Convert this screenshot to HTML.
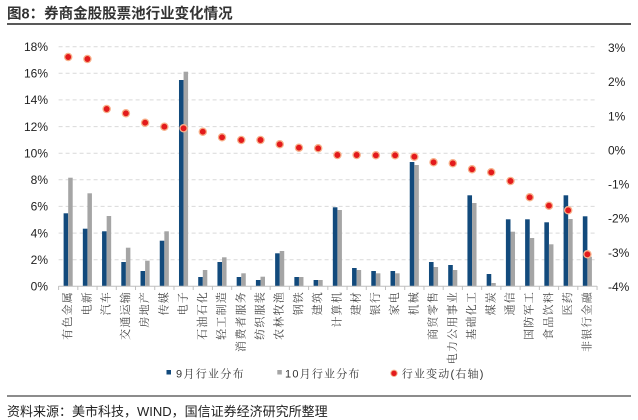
<!DOCTYPE html>
<html><head><meta charset="utf-8"><style>
html,body{margin:0;padding:0;background:#fff;}
svg{display:block;}
.t{font-family:"Liberation Sans","Noto Sans CJK SC",sans-serif;}
.s{font-family:"Liberation Sans","Noto Serif CJK SC",serif;}
</style></head><body>
<svg width="638" height="420" viewBox="0 0 638 420" xmlns="http://www.w3.org/2000/svg">
<rect width="638" height="420" fill="#fff"/>
<text class="t" x="7" y="18.5" font-size="14.5" font-weight="bold" fill="#333">图8：券商金股股票池行业变化情况</text>
<line x1="7" y1="24" x2="631" y2="24" stroke="#222" stroke-width="1.5"/>

<g stroke="#d9d9d9" stroke-width="1" stroke-dasharray="4,3">
<line x1="58.6" x2="597" y1="46.7" y2="46.7"/>
<line x1="58.6" x2="597" y1="73.3" y2="73.3"/>
<line x1="58.6" x2="597" y1="99.9" y2="99.9"/>
<line x1="58.6" x2="597" y1="126.6" y2="126.6"/>
<line x1="58.6" x2="597" y1="153.2" y2="153.2"/>
<line x1="58.6" x2="597" y1="179.8" y2="179.8"/>
<line x1="58.6" x2="597" y1="206.4" y2="206.4"/>
<line x1="58.6" x2="597" y1="233.1" y2="233.1"/>
<line x1="58.6" x2="597" y1="259.7" y2="259.7"/>
</g>

<g class="t" font-size="12" fill="#222" text-anchor="end">
<text x="48" y="51">18%</text>
<text x="48" y="77.6">16%</text>
<text x="48" y="104.2">14%</text>
<text x="48" y="130.9">12%</text>
<text x="48" y="157.5">10%</text>
<text x="48" y="184.1">8%</text>
<text x="48" y="210.7">6%</text>
<text x="48" y="237.4">4%</text>
<text x="48" y="264">2%</text>
<text x="48" y="290.6">0%</text>
</g>
<g class="t" font-size="12" fill="#222">
<text x="608" y="52">3%</text>
<text x="608" y="86.1">2%</text>
<text x="608" y="120.3">1%</text>
<text x="608" y="154.4">0%</text>
<text x="608" y="188.5">-1%</text>
<text x="608" y="222.7">-2%</text>
<text x="608" y="256.8">-3%</text>
<text x="608" y="291">-4%</text>
</g>

<g fill="#124a7c">
<rect x="63.6" y="213.3" width="4.6" height="72.7"/>
<rect x="82.83" y="228.7" width="4.6" height="57.3"/>
<rect x="102.06" y="231.3" width="4.6" height="54.7"/>
<rect x="121.29" y="262" width="4.6" height="24"/>
<rect x="140.52" y="271" width="4.6" height="15"/>
<rect x="159.75" y="240.7" width="4.6" height="45.3"/>
<rect x="178.98" y="80" width="4.6" height="206"/>
<rect x="198.21" y="277" width="4.6" height="9"/>
<rect x="217.44" y="262" width="4.6" height="24"/>
<rect x="236.67" y="277" width="4.6" height="9"/>
<rect x="255.9" y="280" width="4.6" height="6"/>
<rect x="275.13" y="253.3" width="4.6" height="32.7"/>
<rect x="294.36" y="277" width="4.6" height="9"/>
<rect x="313.59" y="280" width="4.6" height="6"/>
<rect x="332.82" y="207.3" width="4.6" height="78.7"/>
<rect x="352.05" y="268" width="4.6" height="18"/>
<rect x="371.28" y="271" width="4.6" height="15"/>
<rect x="390.51" y="271" width="4.6" height="15"/>
<rect x="409.74" y="162" width="4.6" height="124"/>
<rect x="428.97" y="262" width="4.6" height="24"/>
<rect x="448.2" y="265" width="4.6" height="21"/>
<rect x="467.43" y="195.3" width="4.6" height="90.7"/>
<rect x="486.66" y="274" width="4.6" height="12"/>
<rect x="505.89" y="219.3" width="4.6" height="66.7"/>
<rect x="525.12" y="219.3" width="4.6" height="66.7"/>
<rect x="544.35" y="222.3" width="4.6" height="63.7"/>
<rect x="563.58" y="195.3" width="4.6" height="90.7"/>
<rect x="582.81" y="216.3" width="4.6" height="69.7"/>
</g>
<g fill="#a5a5a5">
<rect x="68.2" y="177.7" width="4.5" height="108.3"/>
<rect x="87.43" y="193.3" width="4.5" height="92.7"/>
<rect x="106.66" y="216" width="4.5" height="70"/>
<rect x="125.89" y="247.7" width="4.5" height="38.3"/>
<rect x="145.12" y="260.7" width="4.5" height="25.3"/>
<rect x="164.35" y="231.3" width="4.5" height="54.7"/>
<rect x="183.58" y="71.7" width="4.5" height="214.3"/>
<rect x="202.81" y="270" width="4.5" height="16"/>
<rect x="222.04" y="257.3" width="4.5" height="28.7"/>
<rect x="241.27" y="273.3" width="4.5" height="12.7"/>
<rect x="260.5" y="276.7" width="4.5" height="9.3"/>
<rect x="279.73" y="251" width="4.5" height="35"/>
<rect x="298.96" y="277" width="4.5" height="9"/>
<rect x="318.19" y="280" width="4.5" height="6"/>
<rect x="337.42" y="210" width="4.5" height="76"/>
<rect x="356.65" y="270" width="4.5" height="16"/>
<rect x="375.88" y="273.3" width="4.5" height="12.7"/>
<rect x="395.11" y="273.3" width="4.5" height="12.7"/>
<rect x="414.34" y="165" width="4.5" height="121"/>
<rect x="433.57" y="267" width="4.5" height="19"/>
<rect x="452.8" y="270" width="4.5" height="16"/>
<rect x="472.03" y="203" width="4.5" height="83"/>
<rect x="491.26" y="283" width="4.5" height="3"/>
<rect x="510.49" y="231.7" width="4.5" height="54.3"/>
<rect x="529.72" y="238" width="4.5" height="48"/>
<rect x="548.95" y="244.3" width="4.5" height="41.7"/>
<rect x="568.18" y="219" width="4.5" height="67"/>
<rect x="587.41" y="256.7" width="4.5" height="29.3"/>
</g>

<line x1="58.6" y1="286.2" x2="597" y2="286.2" stroke="#bfbfbf" stroke-width="1"/>
<g stroke="#bfbfbf" stroke-width="1">
<line x1="58.6" x2="58.6" y1="286" y2="290"/><line x1="77.83" x2="77.83" y1="286" y2="290"/><line x1="97.06" x2="97.06" y1="286" y2="290"/><line x1="116.29" x2="116.29" y1="286" y2="290"/><line x1="135.52" x2="135.52" y1="286" y2="290"/><line x1="154.75" x2="154.75" y1="286" y2="290"/><line x1="173.98" x2="173.98" y1="286" y2="290"/><line x1="193.21" x2="193.21" y1="286" y2="290"/><line x1="212.44" x2="212.44" y1="286" y2="290"/><line x1="231.67" x2="231.67" y1="286" y2="290"/><line x1="250.9" x2="250.9" y1="286" y2="290"/><line x1="270.13" x2="270.13" y1="286" y2="290"/><line x1="289.36" x2="289.36" y1="286" y2="290"/><line x1="308.59" x2="308.59" y1="286" y2="290"/><line x1="327.82" x2="327.82" y1="286" y2="290"/><line x1="347.05" x2="347.05" y1="286" y2="290"/><line x1="366.28" x2="366.28" y1="286" y2="290"/><line x1="385.51" x2="385.51" y1="286" y2="290"/><line x1="404.74" x2="404.74" y1="286" y2="290"/><line x1="423.97" x2="423.97" y1="286" y2="290"/><line x1="443.2" x2="443.2" y1="286" y2="290"/><line x1="462.43" x2="462.43" y1="286" y2="290"/><line x1="481.66" x2="481.66" y1="286" y2="290"/><line x1="500.89" x2="500.89" y1="286" y2="290"/><line x1="520.12" x2="520.12" y1="286" y2="290"/><line x1="539.35" x2="539.35" y1="286" y2="290"/><line x1="558.58" x2="558.58" y1="286" y2="290"/><line x1="577.81" x2="577.81" y1="286" y2="290"/><line x1="597.04" x2="597.04" y1="286" y2="290"/>
</g>

<g fill="#e31a1c" stroke="#f7b08a" stroke-width="1.3">
<circle cx="68.2" cy="57" r="3.6"/>
<circle cx="87.43" cy="59" r="3.6"/>
<circle cx="106.66" cy="109" r="3.6"/>
<circle cx="125.89" cy="113.3" r="3.6"/>
<circle cx="145.12" cy="122.7" r="3.6"/>
<circle cx="164.35" cy="126.7" r="3.6"/>
<circle cx="183.58" cy="128.3" r="3.6"/>
<circle cx="202.81" cy="131.7" r="3.6"/>
<circle cx="222.04" cy="137.3" r="3.6"/>
<circle cx="241.27" cy="140" r="3.6"/>
<circle cx="260.5" cy="140" r="3.6"/>
<circle cx="279.73" cy="144.3" r="3.6"/>
<circle cx="298.96" cy="147.7" r="3.6"/>
<circle cx="318.19" cy="148.3" r="3.6"/>
<circle cx="337.42" cy="155" r="3.6"/>
<circle cx="356.65" cy="155" r="3.6"/>
<circle cx="375.88" cy="155.3" r="3.6"/>
<circle cx="395.11" cy="155.3" r="3.6"/>
<circle cx="414.34" cy="156.7" r="3.6"/>
<circle cx="433.57" cy="162.3" r="3.6"/>
<circle cx="452.8" cy="163.3" r="3.6"/>
<circle cx="472.03" cy="169.3" r="3.6"/>
<circle cx="491.26" cy="172.3" r="3.6"/>
<circle cx="510.49" cy="181" r="3.6"/>
<circle cx="529.72" cy="197.3" r="3.6"/>
<circle cx="548.95" cy="205.7" r="3.6"/>
<circle cx="568.18" cy="210.3" r="3.6"/>
<circle cx="587.41" cy="254.3" r="3.6"/>
</g>

<g class="s" font-size="11" fill="#444" text-anchor="end" dominant-baseline="central" letter-spacing="1.2">
<text transform="translate(68.2,291) rotate(-90)">有色金属</text>
<text transform="translate(87.43,291) rotate(-90)">电新</text>
<text transform="translate(106.66,291) rotate(-90)">汽车</text>
<text transform="translate(125.89,291) rotate(-90)">交通运输</text>
<text transform="translate(145.12,291) rotate(-90)">房地产</text>
<text transform="translate(164.35,291) rotate(-90)">传媒</text>
<text transform="translate(183.58,291) rotate(-90)">电子</text>
<text transform="translate(202.81,291) rotate(-90)">石油石化</text>
<text transform="translate(222.04,291) rotate(-90)">轻工制造</text>
<text transform="translate(241.27,291) rotate(-90)">消费者服务</text>
<text transform="translate(260.5,291) rotate(-90)">纺织服装</text>
<text transform="translate(279.73,291) rotate(-90)">农林牧渔</text>
<text transform="translate(298.96,291) rotate(-90)">钢铁</text>
<text transform="translate(318.19,291) rotate(-90)">建筑</text>
<text transform="translate(337.42,291) rotate(-90)">计算机</text>
<text transform="translate(356.65,291) rotate(-90)">建材</text>
<text transform="translate(375.88,291) rotate(-90)">银行</text>
<text transform="translate(395.11,291) rotate(-90)">家电</text>
<text transform="translate(414.34,291) rotate(-90)">机械</text>
<text transform="translate(433.57,291) rotate(-90)">商贸零售</text>
<text transform="translate(452.8,291) rotate(-90)">电力公用事业</text>
<text transform="translate(472.03,291) rotate(-90)">基础化工</text>
<text transform="translate(491.26,291) rotate(-90)">煤炭</text>
<text transform="translate(510.49,291) rotate(-90)">通信</text>
<text transform="translate(529.72,291) rotate(-90)">国防军工</text>
<text transform="translate(548.95,291) rotate(-90)">食品饮料</text>
<text transform="translate(568.18,291) rotate(-90)">医药</text>
<text transform="translate(587.41,291) rotate(-90)">非银行金融</text>
</g>

<rect x="166.5" y="370" width="4.5" height="4.5" fill="#124a7c"/>
<text class="s" x="176" y="377.5" font-size="11" fill="#333" letter-spacing="1.3">9月行业分布</text>
<rect x="277.3" y="370" width="4.5" height="4.5" fill="#a5a5a5"/>
<text class="s" x="285" y="377.5" font-size="11" fill="#333" letter-spacing="1.2">10月行业分布</text>
<circle cx="394" cy="373.3" r="3.2" fill="#e31a1c" stroke="#f7b08a" stroke-width="1"/>
<text class="s" x="401.7" y="377.5" font-size="11" fill="#333" letter-spacing="1.2">行业变动(右轴)</text>

<line x1="7" y1="396" x2="631" y2="396" stroke="#666" stroke-width="1.5"/>
<text class="t" x="7" y="416" font-size="13" fill="#222">资料来源：美市科技，WIND，国信证券经济研究所整理</text>
</svg>
</body></html>
